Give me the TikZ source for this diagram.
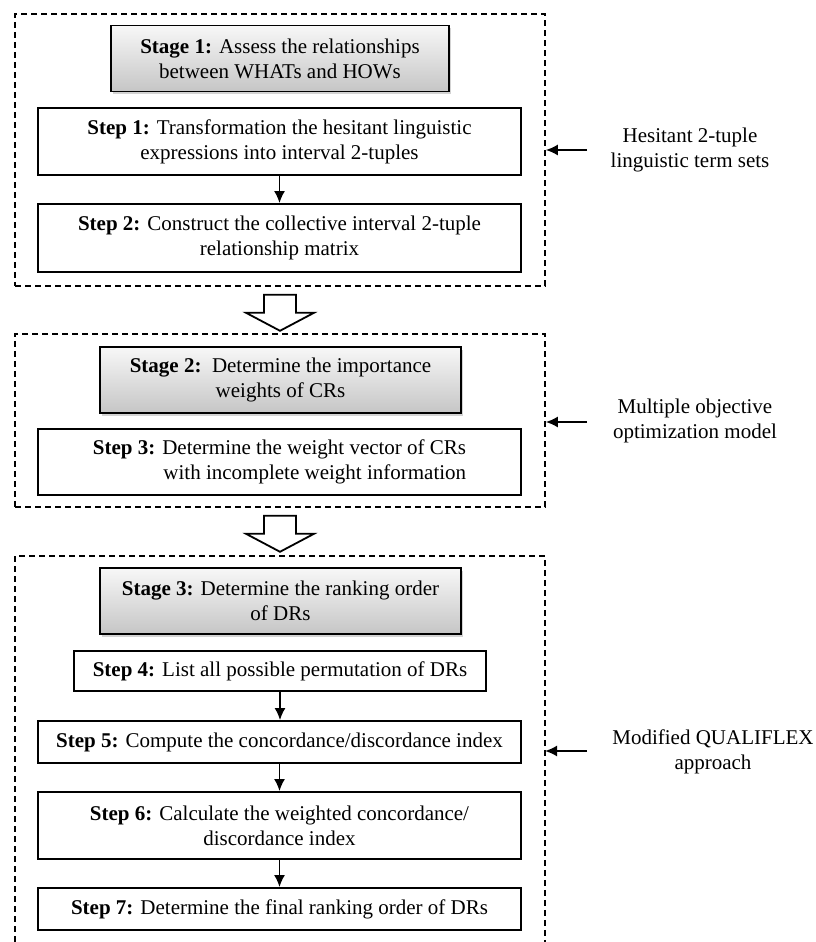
\documentclass[tikz,border=0pt]{standalone}
\usepackage{fontspec}
\setmainfont{Liberation Serif}
\usepackage{xcolor}
\usepackage{tikz}
\usetikzlibrary{positioning,arrows.meta,shadows,calc}

\newcommand{\blockarrow}[1]{%
  \draw[blockarr] (#1) ++(-16,0) -- ++(0,-18) -- ++(-18,0) -- ++(34,-18) -- ++(34,18) -- ++(-18,0) -- ++(0,18) -- cycle;}

\begin{document}
\begin{tikzpicture}[
    x=1pt, y=1pt,
    box/.style={rectangle, draw, line width=1.8pt, align=center, inner sep=0pt, font=\fontsize{21}{25}\selectfont},
    stagebox/.style={box, top color=gray!6, bottom color=gray!45, drop shadow={shadow xshift=2pt, shadow yshift=-3pt, opacity=0.35}, minimum height=66pt},
    stepbox/.style={box, fill=white, minimum width=483pt},
    groupbox/.style={rectangle, draw, line width=1.6pt, dash pattern=on 6pt off 4pt, minimum width=530pt},
    note/.style={align=center, font=\fontsize{21}{25}\selectfont},
    flow/.style={-{Latex[length=12pt,width=11pt]}, line width=1.8pt},
    blockarr/.style={draw, line width=1.8pt, fill=white, line join=miter}
]
\useasboundingbox (0,0) rectangle (816,942);

% Stage 1
\node[groupbox, minimum height=272pt] (grp1) at (280,792) {};
\node[stagebox, minimum width=338pt] (stage1) at (280,883.5) {\textbf{Stage 1:} Assess the relationships\\between WHATs and HOWs};
\node[stepbox, minimum height=67pt] (step1) at (279.5,800.5) {\textbf{Step 1:} Transformation the hesitant linguistic\\expressions into interval 2-tuples};
\node[stepbox, minimum height=68pt] (step2) at (279.5,704) {\textbf{Step 2:} Construct the collective interval 2-tuple\\relationship matrix};
\draw[flow] (step1.south) -- (step2.north);

% Stage 2
\node[groupbox, minimum height=173pt] (grp2) at (280,521.5) {};
\node[stagebox, minimum width=361pt] (stage2) at (280.5,562) {\textbf{Stage 2:}\ \ Determine the importance\\weights of CRs};
\node[stepbox, minimum height=66pt, align=right] (step3) at (279.5,480) {\textbf{Step 3:} Determine the weight vector of CRs\\with incomplete weight information};

% Stage 3 (box runs off the bottom)
\coordinate (g3sw) at (15,0);
\coordinate (g3nw) at (15,386);
\coordinate (g3ne) at (545,386);
\coordinate (g3se) at (545,0);
\draw[line width=1.6pt, dash pattern=on 6pt off 4pt] (g3sw) -- (g3nw) -- (g3ne) -- (g3se);
\node[stagebox, minimum width=361pt] (stage3) at (280.5,341) {\textbf{Stage 3:} Determine the ranking order\\of DRs};
\node[box, fill=white, minimum width=412pt, minimum height=40pt] (step4) at (280,271) {\textbf{Step 4:} List all possible permutation of DRs};
\node[stepbox, minimum height=42pt] (step5) at (279.5,200) {\textbf{Step 5:} Compute the concordance/discordance index};
\node[stepbox, minimum height=67pt] (step6) at (279.5,116.5) {\textbf{Step 6:} Calculate the weighted concordance/\\discordance index};
\node[stepbox, minimum height=42pt] (step7) at (279.5,33) {\textbf{Step 7:} Determine the final ranking order of DRs};
\draw[flow] (step4.south) -- (step4.south |- step5.north);
\draw[flow] (step5.south) -- (step6.north);
\draw[flow] (step6.south) -- (step7.north);

% Block arrows between stages
\blockarrow{[yshift=-8pt]grp1.south}
\blockarrow{[yshift=-8pt]grp2.south}

% Methods on the right
\node[note] (lab1) at (690,792) {Hesitant 2-tuple\\linguistic term sets};
\node[note] (lab2) at (695,521) {Multiple objective\\optimization model};
\node[note] (lab3) at (713,190) {Modified QUALIFLEX\\approach};
\draw[flow] (587,792) -- (grp1.east |- 0,792);
\draw[flow] (587,520) -- (grp2.east |- 0,520);
\draw[flow] (587,191) -- (g3se |- 0,191);

\end{tikzpicture}
\end{document}
